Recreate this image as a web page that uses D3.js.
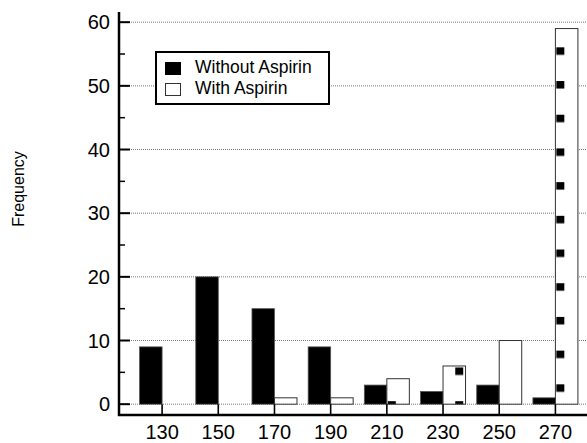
<!DOCTYPE html>
<html>
<head>
<meta charset="utf-8">
<script src="https://cdn.jsdelivr.net/npm/d3@7"></script>
<style>
body { margin:0; background:#fff; }
svg { display:block; font-family:"Liberation Sans", Arial, sans-serif; }
</style>
</head>
<body>
<div id="chart"></div>
<script>
const categories = ["130","150","170","190","210","230","250","270"];
const withoutAspirin = [9,20,15,9,3,2,3,1];
const withAspirin = [0,0,1,1,4,6,10,59];
const seriesNames = ["Without Aspirin","With Aspirin"];
const yMajorTicks = [0,10,20,30,40,50,60];
const yMinorTicks = [5,15,25,35,45,55];

const svgWidth = 587, svgHeight = 443;
const axisX = 119, axisY = 415;

const svg = d3.select("#chart").append("svg")
    .attr("width", svgWidth)
    .attr("height", svgHeight);

// scales
const x = d3.scaleBand()
    .domain(categories)
    .range([134, 583.5])
    .padding(0);

const x1 = d3.scaleBand()
    .domain(["without","with"])
    .range([-22.5, 22.5]);

const y = d3.scaleLinear()
    .domain([-1.7, 61.6])
    .range([axisY, 12]);

function cx(c){ return x(c) + x.bandwidth()/2; }

// pattern of the white bars (small dark squares from the original print)
const defs = svg.append("defs");
const pat = defs.append("pattern")
    .attr("id","specks")
    .attr("patternUnits","userSpaceOnUse")
    .attr("x", cx("210") + x1("with") + 1)
    .attr("y", y(0) - 3)
    .attr("width", 67.4)
    .attr("height", 33.7);
pat.append("rect").attr("width",67.4).attr("height",33.7).attr("fill","#fff");
pat.append("rect").attr("x",0).attr("y",0).attr("width",8).attr("height",7.5).attr("fill","#000");
pat.append("rect").attr("x",33.7).attr("y",16.85).attr("width",8).attr("height",7.5).attr("fill","#000");

// gridlines
svg.append("g").selectAll("line")
    .data(yMajorTicks)
    .enter().append("line")
    .attr("x1", axisX).attr("x2", svgWidth)
    .attr("y1", d => y(d)).attr("y2", d => y(d))
    .attr("stroke","#777")
    .attr("stroke-width",1)
    .attr("stroke-dasharray","1,1");

// bars
svg.append("g").selectAll("rect")
    .data(categories)
    .enter().append("rect")
    .attr("x", d => cx(d) + x1("without"))
    .attr("width", x1.bandwidth())
    .attr("y", (d,i) => y(withoutAspirin[i]))
    .attr("height", (d,i) => y(0) - y(withoutAspirin[i]))
    .attr("fill","#000")
    .attr("stroke","#555")
    .attr("stroke-width",0.8);

svg.append("g").selectAll("rect")
    .data(categories)
    .enter().append("rect")
    .attr("x", d => cx(d) + x1("with"))
    .attr("width", x1.bandwidth())
    .attr("y", (d,i) => y(withAspirin[i]))
    .attr("height", (d,i) => y(0) - y(withAspirin[i]))
    .attr("fill","url(#specks)")
    .attr("stroke","#333")
    .attr("stroke-width",1);

// y axis
svg.append("line")
    .attr("x1",axisX).attr("x2",axisX)
    .attr("y1",y(61.6)).attr("y2",axisY+1)
    .attr("stroke","#000").attr("stroke-width",2.5);

svg.append("g").selectAll("line")
    .data(yMajorTicks)
    .enter().append("line")
    .attr("x1",axisX).attr("x2",axisX+11)
    .attr("y1", d => y(d)).attr("y2", d => y(d))
    .attr("stroke","#000").attr("stroke-width",2);

svg.append("g").selectAll("line")
    .data(yMinorTicks)
    .enter().append("line")
    .attr("x1",axisX).attr("x2",axisX+6)
    .attr("y1", d => y(d)).attr("y2", d => y(d))
    .attr("stroke","#000").attr("stroke-width",1.5);

svg.append("g").selectAll("text")
    .data(yMajorTicks)
    .enter().append("text")
    .attr("x",110)
    .attr("y", d => y(d))
    .attr("dy","0.36em")
    .attr("text-anchor","end")
    .attr("font-size",20)
    .attr("fill","#000")
    .text(d => d);

// x axis
svg.append("line")
    .attr("x1",axisX-1).attr("x2",svgWidth)
    .attr("y1",axisY).attr("y2",axisY)
    .attr("stroke","#000").attr("stroke-width",2.5);

svg.append("g").selectAll("line")
    .data(categories)
    .enter().append("line")
    .attr("x1", d => cx(d)).attr("x2", d => cx(d))
    .attr("y1", y(0)).attr("y2", axisY)
    .attr("stroke","#000").attr("stroke-width",1.6);

svg.append("g").selectAll("text")
    .data(categories)
    .enter().append("text")
    .attr("x", d => cx(d))
    .attr("y", 439)
    .attr("text-anchor","middle")
    .attr("font-size",20)
    .attr("fill","#000")
    .text(d => d);

// axis title
svg.append("text")
    .attr("transform","translate(24,189) rotate(-90)")
    .attr("text-anchor","middle")
    .attr("font-size",16)
    .attr("fill","#000")
    .text("Frequency");

// legend
const legend = svg.append("g").attr("transform","translate(156,52)");
legend.append("rect")
    .attr("width",173).attr("height",52)
    .attr("fill","#fff").attr("stroke","#000").attr("stroke-width",2);
legend.selectAll("rect.key")
    .data(seriesNames)
    .enter().append("rect")
    .attr("class","key")
    .attr("x",9.5)
    .attr("y",(d,i) => 10.5 + i*21)
    .attr("width",15).attr("height",12)
    .attr("fill",(d,i) => i == 0 ? "#000" : "#fff")
    .attr("stroke",(d,i) => i == 0 ? "#000" : "#333")
    .attr("stroke-width",1);
legend.selectAll("text")
    .data(seriesNames)
    .enter().append("text")
    .attr("x",39)
    .attr("y",(d,i) => 21 + i*20.5)
    .attr("font-size",17.5)
    .attr("fill","#000")
    .text(d => d);
</script>
</body>
</html>
